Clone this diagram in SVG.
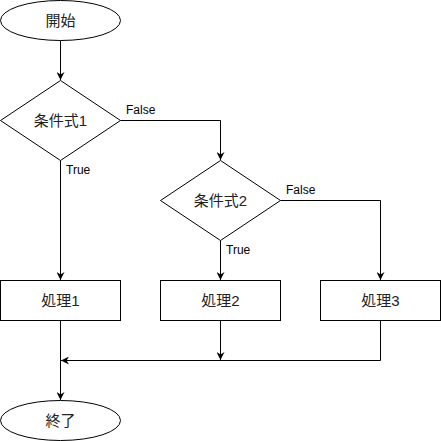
<svg xmlns="http://www.w3.org/2000/svg" width="441" height="441" viewBox="0 0 441 441">
<defs>
<marker id="arr" viewBox="0 0 10 10" refX="10" refY="5" markerWidth="8" markerHeight="8" markerUnits="userSpaceOnUse" orient="auto">
<path d="M0,0 L10,5 L0,10 L3,5 Z" fill="#000"/>
</marker>
</defs>
<style>
.shape{fill:#fff;stroke:#000;stroke-width:1}
.edge{fill:none;stroke:#000;stroke-width:1;marker-end:url(#arr)}
.t{font-family:"Liberation Sans","Noto Sans CJK JP",sans-serif;font-size:15px;fill:#222;text-anchor:middle;dominant-baseline:central}
.lbl{font-family:"Liberation Sans",sans-serif;font-size:12px;fill:#000;dominant-baseline:central}
</style>
<rect width="441" height="441" fill="#fff"/>
<g id="connectors">
<path class="edge" d="M60.5,40.5 L60.5,80"/>
<path class="edge" d="M120.5,120.5 L220.5,120.5 L220.5,160"/>
<path class="edge" d="M60.5,160.5 L60.5,280"/>
<path class="edge" d="M280.5,200.5 L380.5,200.5 L380.5,280"/>
<path class="edge" d="M220.5,240.5 L220.5,280"/>
<path class="edge" d="M380.5,320.5 L380.5,360.5 L61,360.5"/>
<path class="edge" d="M220.5,320.5 L220.5,360"/>
<path class="edge" d="M60.5,320.5 L60.5,400"/>
<text class="lbl" x="126" y="110">False</text>
<text class="lbl" x="66" y="170">True</text>
<text class="lbl" x="286" y="190">False</text>
<text class="lbl" x="226" y="250">True</text>
</g>
<g id="start">
<ellipse class="shape" cx="60.5" cy="20.5" rx="60" ry="20"/>
<text class="t" x="60.5" y="20.5">開始</text>
</g>
<g id="cond1">
<path class="shape" d="M60.5,80.5 L120.5,120.5 L60.5,160.5 L0.5,120.5 Z"/>
<text class="t" x="60.5" y="120.5">条件式1</text>
</g>
<g id="cond2">
<path class="shape" d="M220.5,160.5 L280.5,200.5 L220.5,240.5 L160.5,200.5 Z"/>
<text class="t" x="220.5" y="200.5">条件式2</text>
</g>
<g id="proc1">
<rect class="shape" x="0.5" y="280.5" width="120" height="40"/>
<text class="t" x="60.5" y="300.5">処理1</text>
</g>
<g id="proc2">
<rect class="shape" x="160.5" y="280.5" width="120" height="40"/>
<text class="t" x="220.5" y="300.5">処理2</text>
</g>
<g id="proc3">
<rect class="shape" x="320.5" y="280.5" width="120" height="40"/>
<text class="t" x="380.5" y="300.5">処理3</text>
</g>
<g id="end">
<ellipse class="shape" cx="60.5" cy="420.5" rx="60" ry="20"/>
<text class="t" x="60.5" y="420.5">終了</text>
</g>
</svg>
